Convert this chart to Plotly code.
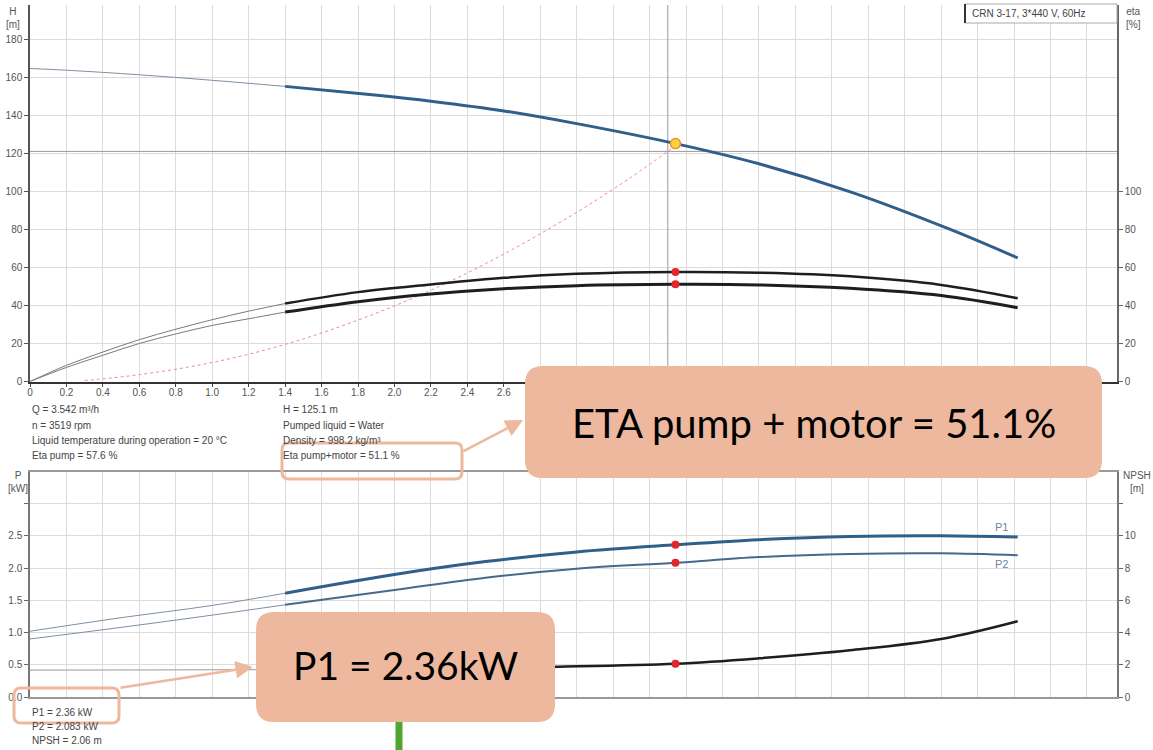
import plotly.graph_objects as go

# ---------------- data ----------------
q_h = [0, 0.2, 0.6, 1.0, 1.4, 1.92, 2.2, 2.6, 3.0, 3.542, 4.0, 4.51, 5.05, 5.42]
h_vals = [164.6, 163.7, 161.3, 158.4, 155.2, 150.4, 147.4, 142.3, 135.6, 125.1, 114.5, 99.5, 80.0, 65.0]

q_eta = [0, 0.2, 0.4, 0.6, 0.8, 1.0, 1.2, 1.4, 1.8, 2.2, 2.6, 3.0, 3.542, 4.0, 4.5, 5.0, 5.42]
eta_pump = [0, 8.5, 15.5, 22.0, 27.5, 32.5, 37.0, 41.0, 47.0, 51.0, 54.5, 56.6, 57.6, 57.2, 55.3, 50.8, 43.8]
eta_total = [0, 7.4, 13.8, 20.0, 25.0, 29.5, 33.0, 36.5, 42.0, 46.0, 48.8, 50.4, 51.1, 50.8, 49.0, 45.2, 38.8]

q_sys = [0.3, 0.6, 1.0, 1.4, 1.8, 2.2, 2.6, 3.0, 3.3, 3.542]
h_sys = [0.5, 3.6, 10.0, 19.5, 32.3, 48.0, 67.0, 89.0, 107.5, 124.0]

q_p = [0, 0.5, 1.0, 1.4, 2.0, 2.5, 3.0, 3.542, 4.0, 4.5, 5.0, 5.42]
p1_vals = [1.02, 1.23, 1.42, 1.61, 1.90, 2.10, 2.25, 2.36, 2.44, 2.49, 2.50, 2.48]
p2_vals = [0.90, 1.08, 1.27, 1.43, 1.66, 1.85, 1.99, 2.083, 2.17, 2.22, 2.23, 2.20]

q_npsh = [0, 0.7, 1.4, 2.0, 2.5, 2.9, 3.542, 4.0, 4.5, 5.0, 5.42]
npsh_vals = [1.67, 1.68, 1.70, 1.75, 1.82, 1.88, 2.06, 2.4, 2.9, 3.6, 4.7]

op_q = 3.542
op_h = 125.1
op_eta_pump = 57.6
op_eta_total = 51.1
op_p1 = 2.36
op_p2 = 2.083
op_npsh = 2.06
duty_q = 3.5
duty_h = 121.0
q_split = 1.4

q_ticks = [round(0.2 * i, 1) for i in range(30)]
q_ticklabels = ["0"] + [f"{v:.1f}" for v in q_ticks[1:]]
h_ticks = list(range(0, 181, 20))
eta_ticks = list(range(0, 101, 20))
p_ticks = [0, 0.5, 1.0, 1.5, 2.0, 2.5, 3.0]
p_ticklabels = ["0.0", "0.5", "1.0", "1.5", "2.0", "2.5", ""]
npsh_ticks = [0, 2, 4, 6, 8, 10, 12]
npsh_ticklabels = ["0", "2", "4", "6", "8", "10", ""]

info_left = ["Q = 3.542 m³/h", "n = 3519 rpm", "Liquid temperature during operation = 20 °C", "Eta pump = 57.6 %"]
info_right = ["H = 125.1 m", "Pumped liquid = Water", "Density = 998.2 kg/m³", "Eta pump+motor = 51.1 %"]
info_bottom = ["P1 = 2.36 kW", "P2 = 2.083 kW", "NPSH = 2.06 m"]

# ---------------- helpers ----------------
L, R, T, B = 30, 36, 5, 53
W, H = 1153, 750
PW, PH = W - L - R, H - T - B


def px(x):
    return (x - L) / PW


def py(y):
    return (H - B - y) / PH


def split(q, v):
    thin = [(a, b) for a, b in zip(q, v) if a <= q_split]
    thick = [(a, b) for a, b in zip(q, v) if a >= q_split]
    return [t[0] for t in thin], [t[1] for t in thin], [t[0] for t in thick], [t[1] for t in thick]


def rrect(x0, y0, x1, y1, r):
    pts = [("M", [(x0 + r, y0)]), ("L", [(x1 - r, y0)]), ("Q", [(x1, y0), (x1, y0 + r)]),
           ("L", [(x1, y1 - r)]), ("Q", [(x1, y1), (x1 - r, y1)]), ("L", [(x0 + r, y1)]),
           ("Q", [(x0, y1), (x0, y1 - r)]), ("L", [(x0, y0 + r)]), ("Q", [(x0, y0), (x0 + r, y0)])]
    s = ""
    for cmd, ps in pts:
        s += cmd + " " + " ".join(f"{px(a):.5f},{py(b):.5f}" for a, b in ps) + " "
    return s + "Z"


fig = go.Figure()

BLUE = "#2f5f8a"
THIN_BLUE = "#7d8fa3"
BLACK = "#1e1e1e"
THIN_GRAY = "#7a7a7a"
RED = "#e3262b"
SALMON = "#edb89d"


def add_curve(q, v, xa, ya, thick_color, thin_color, thick_w, shape="spline"):
    a, b, c, d = split(q, v)
    fig.add_trace(go.Scatter(x=a, y=b, xaxis=xa, yaxis=ya, mode="lines",
                             line=dict(color=thin_color, width=1, shape=shape), hoverinfo="skip"))
    fig.add_trace(go.Scatter(x=c, y=d, xaxis=xa, yaxis=ya, mode="lines",
                             line=dict(color=thick_color, width=thick_w, shape=shape), hoverinfo="skip"))


# crosshair (duty point)
fig.add_trace(go.Scatter(x=[duty_q, duty_q], y=[0, 198], xaxis="x", yaxis="y", mode="lines",
                         line=dict(color="#9a9a9a", width=1), hoverinfo="skip"))
fig.add_trace(go.Scatter(x=[0, 5.965], y=[duty_h, duty_h], xaxis="x", yaxis="y", mode="lines",
                         line=dict(color="#9a9a9a", width=1), hoverinfo="skip"))

# system curve
fig.add_trace(go.Scatter(x=q_sys, y=h_sys, xaxis="x", yaxis="y", mode="lines",
                         line=dict(color="#f08a8a", width=1, dash="dot", shape="spline"), hoverinfo="skip"))

add_curve(q_h, h_vals, "x", "y", BLUE, THIN_BLUE, 3)
add_curve(q_eta, eta_pump, "x", "y2", BLACK, THIN_GRAY, 2.5)
add_curve(q_eta, eta_total, "x", "y2", BLACK, THIN_GRAY, 3)
add_curve(q_p, p1_vals, "x2", "y3", BLUE, THIN_BLUE, 3)
add_curve(q_p, p2_vals, "x2", "y3", "#46698c", THIN_BLUE, 2)
add_curve(q_npsh, npsh_vals, "x2", "y4", BLACK, "#9a9a9a", 2.5)

# markers
fig.add_trace(go.Scatter(x=[op_q], y=[op_h], xaxis="x", yaxis="y", mode="markers",
                         marker=dict(size=10, color="#ffd23f", line=dict(color="#e8902c", width=1.5)), hoverinfo="skip"))
fig.add_trace(go.Scatter(x=[op_q, op_q], y=[op_eta_pump, op_eta_total], xaxis="x", yaxis="y2", mode="markers",
                         marker=dict(size=8, color=RED), hoverinfo="skip"))
fig.add_trace(go.Scatter(x=[op_q, op_q], y=[op_p1, op_p2], xaxis="x2", yaxis="y3", mode="markers",
                         marker=dict(size=8, color=RED), hoverinfo="skip"))
fig.add_trace(go.Scatter(x=[op_q], y=[op_npsh], xaxis="x2", yaxis="y4", mode="markers",
                         marker=dict(size=8, color=RED), hoverinfo="skip"))

tickfont = dict(size=10, color="#555", family="Liberation Sans, Arial, sans-serif")
common = dict(automargin=False, zeroline=False, tickfont=tickfont, fixedrange=True)

fig.update_layout(
    width=W, height=H, margin=dict(l=L, r=R, t=T, b=B),
    paper_bgcolor="white", plot_bgcolor="white", showlegend=False,
    xaxis=dict(domain=[0, 1], anchor="y", range=[0, 5.965], tickvals=q_ticks, ticktext=q_ticklabels,
               showgrid=True, gridcolor="#dcdcdc", showline=True, linecolor="#333", linewidth=2,
               ticks="outside", ticklen=3, tickcolor="#444", ticklabelstandoff=-3, **common),
    yaxis=dict(domain=[py(381.5), 1], anchor="x", range=[0, 198], tickvals=h_ticks,
               showgrid=True, gridcolor="#dcdcdc", showline=True, linecolor="#555", linewidth=1.5,
               ticks="outside", ticklen=4, tickcolor="#555", **common),
    yaxis2=dict(overlaying="y", side="right", anchor="x", range=[0, 198], tickvals=eta_ticks,
                showgrid=False, showline=True, linecolor="#666", linewidth=1.5,
                ticks="outside", ticklen=4, tickcolor="#666", **common),
    xaxis2=dict(domain=[0, 1], anchor="y3", range=[0, 5.965], tickvals=q_ticks, showticklabels=False,
                showgrid=True, gridcolor="#dcdcdc", showline=True, mirror=True, linecolor="#999", linewidth=1.5,
                ticks="", **common),
    yaxis3=dict(domain=[0, py(472)], anchor="x2", range=[0, 3.49], tickvals=p_ticks, ticktext=p_ticklabels,
                showgrid=True, gridcolor="#dcdcdc", showline=True, linecolor="#777", linewidth=1.5,
                ticks="outside", ticklen=4, tickcolor="#666", **common),
    yaxis4=dict(overlaying="y3", side="right", anchor="x2", range=[0, 13.96], tickvals=npsh_ticks,
                ticktext=npsh_ticklabels, showgrid=False, showline=True, linecolor="#777", linewidth=1.5,
                ticks="outside", ticklen=4, tickcolor="#666", **common),
)

shapes = []
ann = []
small = dict(size=10, color="#444", family="Liberation Sans, Arial, sans-serif")

# model box top-right
shapes.append(dict(type="rect", xref="paper", yref="paper", x0=px(965), x1=px(1117), y0=py(23), y1=py(4),
                   line=dict(color="#aaa", width=1), fillcolor="white", layer="above"))
shapes.append(dict(type="line", xref="paper", yref="paper", x0=px(965), x1=px(965), y0=py(23), y1=py(4),
                   line=dict(color="#333", width=2), layer="above"))
ann.append(dict(x=px(970), y=py(13.5), xref="paper", yref="paper", text="CRN 3-17, 3*440 V, 60Hz",
                showarrow=False, xanchor="left", yanchor="middle", font=small))

# axis titles
for x, y, t in [(13, 4, "H<br>[m]"), (1133, 4, "eta<br>[%]"), (18, 468, "P<br>[kW]"), (1137, 468, "NPSH<br>[m]")]:
    ann.append(dict(x=px(x), y=py(y), xref="paper", yref="paper", text=t, showarrow=False,
                    xanchor="center", yanchor="top", font=dict(size=10, color="#555", family="Liberation Sans, Arial")))

# info texts
for i, t in enumerate(info_left):
    ann.append(dict(x=px(30), y=py(410 + 15.2 * i), xref="paper", yref="paper", text=t, showarrow=False,
                    xanchor="left", yanchor="middle", font=small))
for i, t in enumerate(info_right):
    ann.append(dict(x=px(281), y=py(410 + 15.2 * i), xref="paper", yref="paper", text=t, showarrow=False,
                    xanchor="left", yanchor="middle", font=small))
for i, t in enumerate(info_bottom):
    ann.append(dict(x=px(30), y=py(712 + 14.5 * i), xref="paper", yref="paper", text=t, showarrow=False,
                    xanchor="left", yanchor="middle", font=small))

# P1 / P2 labels in plot
ann.append(dict(x=5.33, y=2.64, xref="x2", yref="y3", text="P1", showarrow=False,
                font=dict(size=11, color="#6a86a3", family="Liberation Sans, Arial")))
ann.append(dict(x=5.33, y=2.06, xref="x2", yref="y3", text="P2", showarrow=False,
                font=dict(size=11, color="#6a86a3", family="Liberation Sans, Arial")))

# callout outline boxes
shapes.append(dict(type="path", xref="paper", yref="paper", path=rrect(282, 443, 462, 479, 7),
                   line=dict(color=SALMON, width=3), layer="above"))
shapes.append(dict(type="path", xref="paper", yref="paper", path=rrect(14, 688, 119, 723, 7),
                   line=dict(color=SALMON, width=3), layer="above"))
# big callout boxes
shapes.append(dict(type="path", xref="paper", yref="paper", path=rrect(525, 366, 1102, 478, 18),
                   line=dict(width=0), fillcolor=SALMON, layer="above"))
shapes.append(dict(type="path", xref="paper", yref="paper", path=rrect(256, 612, 555, 722, 18),
                   line=dict(width=0), fillcolor=SALMON, layer="above"))
# green bar
shapes.append(dict(type="rect", xref="paper", yref="paper", x0=px(395.5), x1=px(402.5), y0=py(750), y1=py(722),
                   line=dict(width=0), fillcolor="#4fa52f", layer="above"))

bigfont = "Lato, Open Sans, sans-serif"
ann.append(dict(x=px(814), y=py(423), xref="paper", yref="paper", text="ETA pump + motor = 51.1%",
                showarrow=False, xanchor="center", yanchor="middle",
                font=dict(size=40, color="black", family=bigfont)))
ann.append(dict(x=px(405), y=py(665), xref="paper", yref="paper", text="P1 = 2.36kW",
                showarrow=False, xanchor="center", yanchor="middle",
                font=dict(size=39, color="black", family=bigfont)))

# arrows
ann.append(dict(x=px(523), y=py(420), xref="paper", yref="paper", text="", showarrow=True,
                ax=462 - 523, ay=452 - 420, arrowhead=2, arrowsize=1.4, arrowwidth=2.5, arrowcolor=SALMON, standoff=0))
ann.append(dict(x=px(253), y=py(667), xref="paper", yref="paper", text="", showarrow=True,
                ax=119 - 253, ay=688 - 667, arrowhead=2, arrowsize=1.4, arrowwidth=2.5, arrowcolor=SALMON, standoff=0))

fig.update_layout(shapes=shapes, annotations=ann)
fig.write_html("out.html", config={"displayModeBar": False},
               post_script="document.body.style.margin='0px';document.body.style.overflow='hidden';")
